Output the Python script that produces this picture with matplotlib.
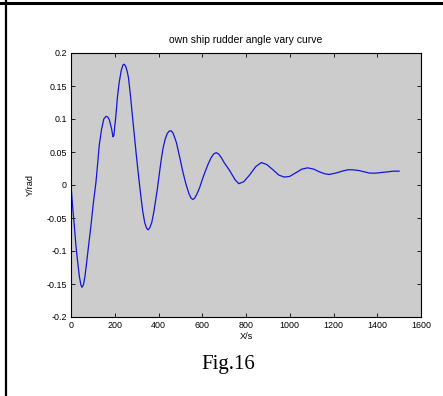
import numpy as np
import matplotlib
matplotlib.use("Agg")
import matplotlib.pyplot as plt
from matplotlib.lines import Line2D

# ---------- data ----------
t_s = [0, 8, 15, 22, 30, 38, 45, 50, 57, 64, 72, 80, 91, 102, 114, 122, 129,
       140, 150, 160, 168, 175, 185, 192, 196, 200, 205, 212, 220, 230, 238,
       243, 250, 257, 263, 272, 281, 290, 299, 309, 319, 328, 337, 345, 352,
       360, 369, 378, 387, 396, 405, 414, 421, 430, 440, 450, 458, 466, 475,
       482, 497, 512, 525, 539, 549, 557, 565, 575, 588, 600, 613, 626, 640,
       652, 664, 675, 688, 700, 725, 750, 767, 790, 816, 845, 870, 895, 920,
       950, 975, 1000, 1030, 1055, 1082, 1110, 1135, 1160, 1180, 1210, 1240,
       1265, 1287, 1315, 1340, 1365, 1393, 1420, 1450, 1475, 1500]
rudder_rad = [0.0, -0.035, -0.061, -0.090, -0.115, -0.138, -0.151, -0.155,
              -0.151, -0.138, -0.116, -0.093, -0.062, -0.028, 0.004, 0.033,
              0.060, 0.085, 0.100, 0.104, 0.103, 0.099, 0.086, 0.073, 0.075,
              0.089, 0.104, 0.132, 0.155, 0.174, 0.182, 0.183, 0.180, 0.172,
              0.162, 0.135, 0.104, 0.074, 0.044, 0.013, -0.016, -0.040, -0.057,
              -0.065, -0.068, -0.065, -0.057, -0.042, -0.023, -0.003, 0.020,
              0.042, 0.056, 0.069, 0.078, 0.082, 0.082, 0.079, 0.071, 0.064,
              0.042, 0.019, 0.002, -0.013, -0.020, -0.022, -0.020, -0.014,
              -0.004, 0.008, 0.020, 0.031, 0.041, 0.047, 0.049, 0.047, 0.041,
              0.034, 0.022, 0.008, 0.002, 0.005, 0.015, 0.028, 0.034, 0.031,
              0.024, 0.015, 0.012, 0.013, 0.019, 0.024, 0.026, 0.024, 0.020,
              0.017, 0.016, 0.018, 0.021, 0.023, 0.023, 0.022, 0.020, 0.018,
              0.018, 0.019, 0.020, 0.021, 0.021]

x_ticks = [0, 200, 400, 600, 800, 1000, 1200, 1400, 1600]
y_ticks = [-0.2, -0.15, -0.1, -0.05, 0, 0.05, 0.1, 0.15, 0.2]
y_tick_labels = ["-0.2", "-0.15", "-0.1", "-0.05", "0", "0.05", "0.1", "0.15", "0.2"]

# ---------- figure ----------
W, H = 443, 396
fig = plt.figure(figsize=(W / 100, H / 100), dpi=100, facecolor="white")
ax = fig.add_axes([71 / W, 1 - 317 / H, (421 - 71) / W, (317 - 53) / H])
ax.set_facecolor("#cccccc")

ax.plot(t_s, rudder_rad, color="#1414dc", lw=0.9)

ax.set_xlim(0, 1600)
ax.set_ylim(-0.2, 0.2)
ax.set_xticks(x_ticks)
ax.set_xticklabels([str(v) for v in x_ticks])
ax.set_yticks(y_ticks)
ax.set_yticklabels(y_tick_labels)

font = "Liberation Sans"
ax.tick_params(direction="in", length=3, width=0.6, top=True, right=True,
               labelsize=6.4, pad=3)
for lab in ax.get_xticklabels() + ax.get_yticklabels():
    lab.set_fontfamily(font)
for sp in ax.spines.values():
    sp.set_linewidth(0.8)

ax.set_title("own ship rudder angle vary curve", fontsize=7.5, family=font, pad=7)
ax.set_xlabel("X/s", fontsize=6.6, family=font, labelpad=1)
ax.set_ylabel("Y/rad", fontsize=6.6, family=font, labelpad=8)

fig.text(228 / W, 1 - 365 / H, "Fig.16", ha="center", va="center",
         fontsize=15, family="Liberation Serif")

# page border lines (top and left)
fig.add_artist(Line2D([0, 1], [1 - 2.5 / H, 1 - 2.5 / H], color="black", lw=2.2,
                      transform=fig.transFigure))
fig.add_artist(Line2D([6 / W, 6 / W], [0, 1], color="black", lw=1.6,
                      transform=fig.transFigure))

fig.savefig("out.png", dpi=100, facecolor="white")
